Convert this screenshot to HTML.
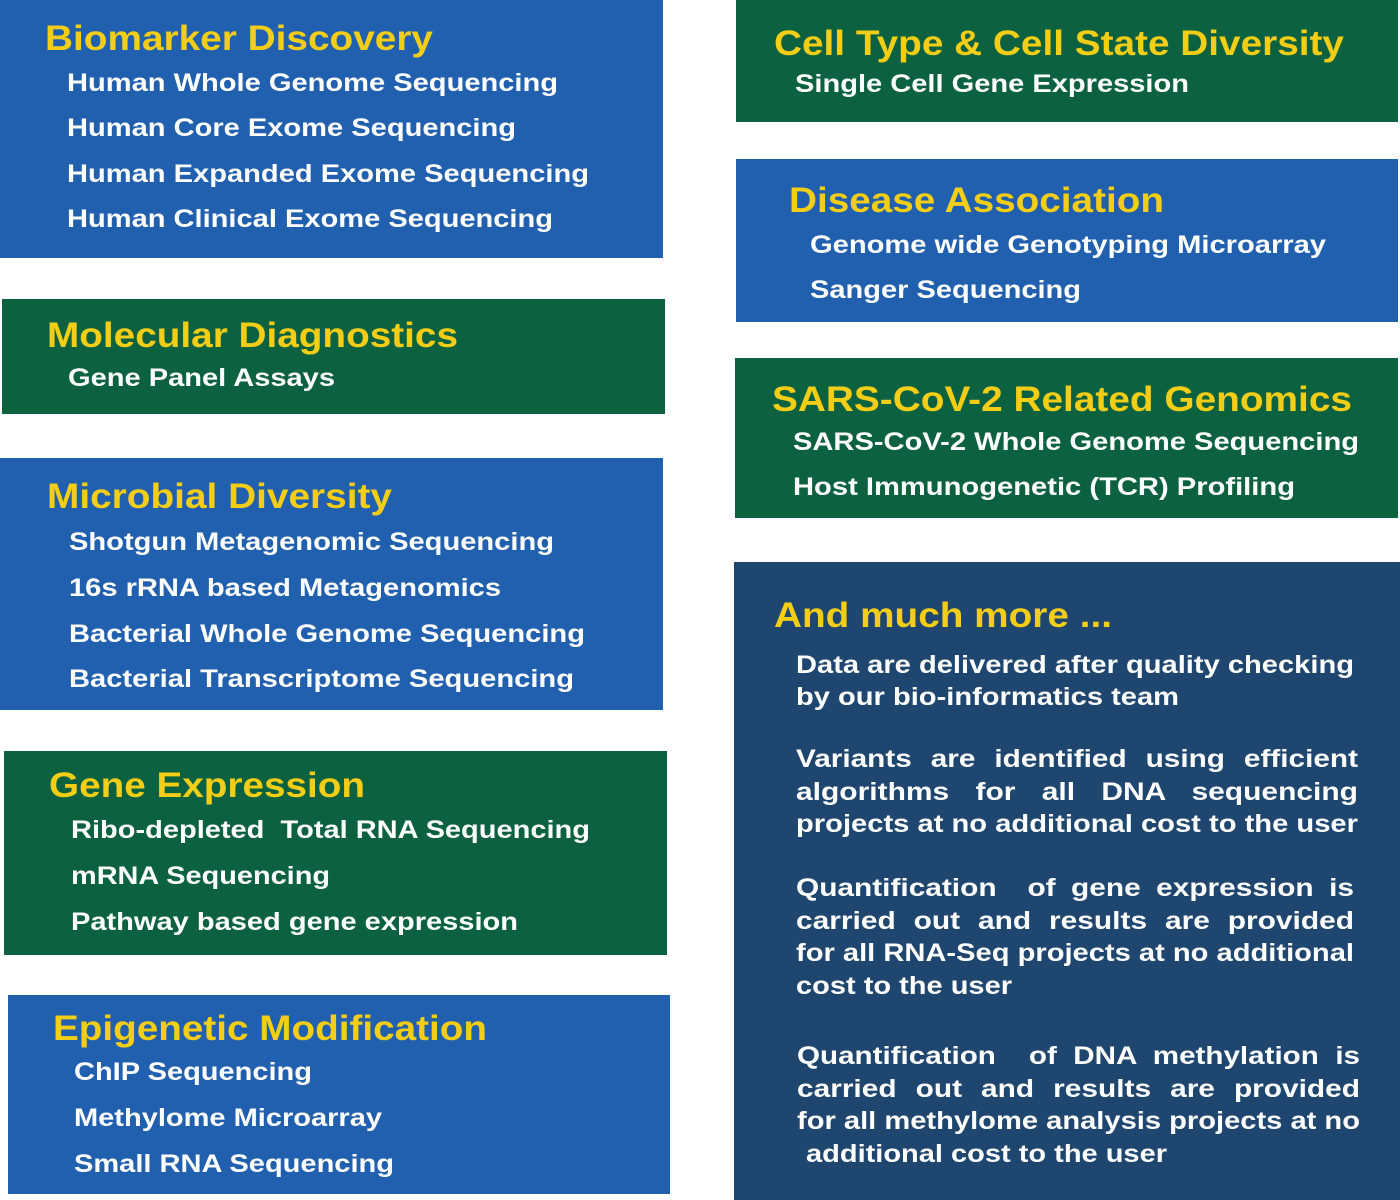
<!DOCTYPE html>
<html><head><meta charset="utf-8"><style>
html,body{margin:0;padding:0;background:#fff;}
svg{display:block;}
.t{font-family:"Liberation Sans",Arial,sans-serif;font-weight:bold;font-size:35px;fill:#f4cd16;}
.i{font-family:"Liberation Sans",Arial,sans-serif;font-weight:bold;font-size:25px;fill:#fff;}
</style></head><body>
<svg width="1400" height="1200" viewBox="0 0 1400 1200" xmlns="http://www.w3.org/2000/svg">
<rect x="0" y="0" width="1400" height="1200" fill="#fff"/>
<rect x="0" y="0" width="663" height="258" fill="#2160ae"/>
<text class="t" x="45" y="50" textLength="388" lengthAdjust="spacingAndGlyphs">Biomarker Discovery</text>
<text class="i" x="67" y="91" textLength="491" lengthAdjust="spacingAndGlyphs">Human Whole Genome Sequencing</text>
<text class="i" x="67" y="136" textLength="449" lengthAdjust="spacingAndGlyphs">Human Core Exome Sequencing</text>
<text class="i" x="67" y="182" textLength="522" lengthAdjust="spacingAndGlyphs">Human Expanded Exome Sequencing</text>
<text class="i" x="67" y="227" textLength="486" lengthAdjust="spacingAndGlyphs">Human Clinical Exome Sequencing</text>
<rect x="2" y="299" width="663" height="115" fill="#0c6240"/>
<text class="t" x="47" y="347" textLength="411" lengthAdjust="spacingAndGlyphs">Molecular Diagnostics</text>
<text class="i" x="68" y="386" textLength="267" lengthAdjust="spacingAndGlyphs">Gene Panel Assays</text>
<rect x="0" y="458" width="663" height="252" fill="#2160ae"/>
<text class="t" x="47" y="508" textLength="345" lengthAdjust="spacingAndGlyphs">Microbial Diversity</text>
<text class="i" x="69" y="550" textLength="485" lengthAdjust="spacingAndGlyphs">Shotgun Metagenomic Sequencing</text>
<text class="i" x="69" y="596" textLength="432" lengthAdjust="spacingAndGlyphs">16s rRNA based Metagenomics</text>
<text class="i" x="69" y="642" textLength="516" lengthAdjust="spacingAndGlyphs">Bacterial Whole Genome Sequencing</text>
<text class="i" x="69" y="687" textLength="505" lengthAdjust="spacingAndGlyphs">Bacterial Transcriptome Sequencing</text>
<rect x="4" y="751" width="663" height="204" fill="#0c6240"/>
<text class="t" x="49" y="797" textLength="316" lengthAdjust="spacingAndGlyphs">Gene Expression</text>
<text class="i" x="71" y="838" textLength="519" lengthAdjust="spacingAndGlyphs" xml:space="preserve">Ribo-depleted  Total RNA Sequencing</text>
<text class="i" x="71" y="884" textLength="259" lengthAdjust="spacingAndGlyphs">mRNA Sequencing</text>
<text class="i" x="71" y="930" textLength="447" lengthAdjust="spacingAndGlyphs">Pathway based gene expression</text>
<rect x="8" y="995" width="662" height="199" fill="#2160ae"/>
<text class="t" x="53" y="1040" textLength="434" lengthAdjust="spacingAndGlyphs">Epigenetic Modification</text>
<text class="i" x="74" y="1080" textLength="238" lengthAdjust="spacingAndGlyphs">ChIP Sequencing</text>
<text class="i" x="74" y="1126" textLength="308" lengthAdjust="spacingAndGlyphs">Methylome Microarray</text>
<text class="i" x="74" y="1172" textLength="320" lengthAdjust="spacingAndGlyphs">Small RNA Sequencing</text>
<rect x="736" y="0" width="662" height="122" fill="#0c6240"/>
<text class="t" x="774" y="55" textLength="570" lengthAdjust="spacingAndGlyphs">Cell Type &amp; Cell State Diversity</text>
<text class="i" x="795" y="92" textLength="394" lengthAdjust="spacingAndGlyphs">Single Cell Gene Expression</text>
<rect x="736" y="159" width="662" height="163" fill="#2160ae"/>
<text class="t" x="789" y="212" textLength="375" lengthAdjust="spacingAndGlyphs">Disease Association</text>
<text class="i" x="810" y="253" textLength="516" lengthAdjust="spacingAndGlyphs">Genome wide Genotyping Microarray</text>
<text class="i" x="810" y="298" textLength="271" lengthAdjust="spacingAndGlyphs">Sanger Sequencing</text>
<rect x="735" y="358" width="663" height="160" fill="#0c6240"/>
<text class="t" x="772" y="411" textLength="580" lengthAdjust="spacingAndGlyphs">SARS-CoV-2 Related Genomics</text>
<text class="i" x="793" y="450" textLength="566" lengthAdjust="spacingAndGlyphs">SARS-CoV-2 Whole Genome Sequencing</text>
<text class="i" x="793" y="495" textLength="502" lengthAdjust="spacingAndGlyphs">Host Immunogenetic (TCR) Profiling</text>
<rect x="734" y="562" width="666" height="638" fill="#1e466f"/>
<text class="t" x="774" y="627" textLength="338" lengthAdjust="spacingAndGlyphs">And much more ...</text>
<text class="i" x="796" y="673" textLength="558" lengthAdjust="spacingAndGlyphs">Data are delivered after quality checking</text>
<text class="i" x="796" y="705" textLength="383" lengthAdjust="spacingAndGlyphs">by our bio-informatics team</text>
<text class="i" x="796" y="767" textLength="562" lengthAdjust="spacingAndGlyphs" style="word-spacing:9px">Variants are identified using efficient</text>
<text class="i" x="796" y="800" textLength="562" lengthAdjust="spacingAndGlyphs" style="word-spacing:15px">algorithms for all DNA sequencing</text>
<text class="i" x="796" y="832" textLength="562" lengthAdjust="spacingAndGlyphs">projects at no additional cost to the user</text>
<text class="i" x="796" y="896" textLength="558" lengthAdjust="spacingAndGlyphs" style="word-spacing:6px" xml:space="preserve">Quantification  of gene expression is</text>
<text class="i" x="796" y="929" textLength="558" lengthAdjust="spacingAndGlyphs" style="word-spacing:8px">carried out and results are provided</text>
<text class="i" x="796" y="961" textLength="558" lengthAdjust="spacingAndGlyphs">for all RNA-Seq projects at no additional</text>
<text class="i" x="796" y="994" textLength="216" lengthAdjust="spacingAndGlyphs">cost to the user</text>
<text class="i" x="797" y="1064" textLength="563" lengthAdjust="spacingAndGlyphs" style="word-spacing:7px" xml:space="preserve">Quantification  of DNA methylation is</text>
<text class="i" x="797" y="1097" textLength="563" lengthAdjust="spacingAndGlyphs" style="word-spacing:9px">carried out and results are provided</text>
<text class="i" x="797" y="1129" textLength="563" lengthAdjust="spacingAndGlyphs">for all methylome analysis projects at no</text>
<text class="i" x="806" y="1162" textLength="361" lengthAdjust="spacingAndGlyphs">additional cost to the user</text>
</svg>
</body></html>
